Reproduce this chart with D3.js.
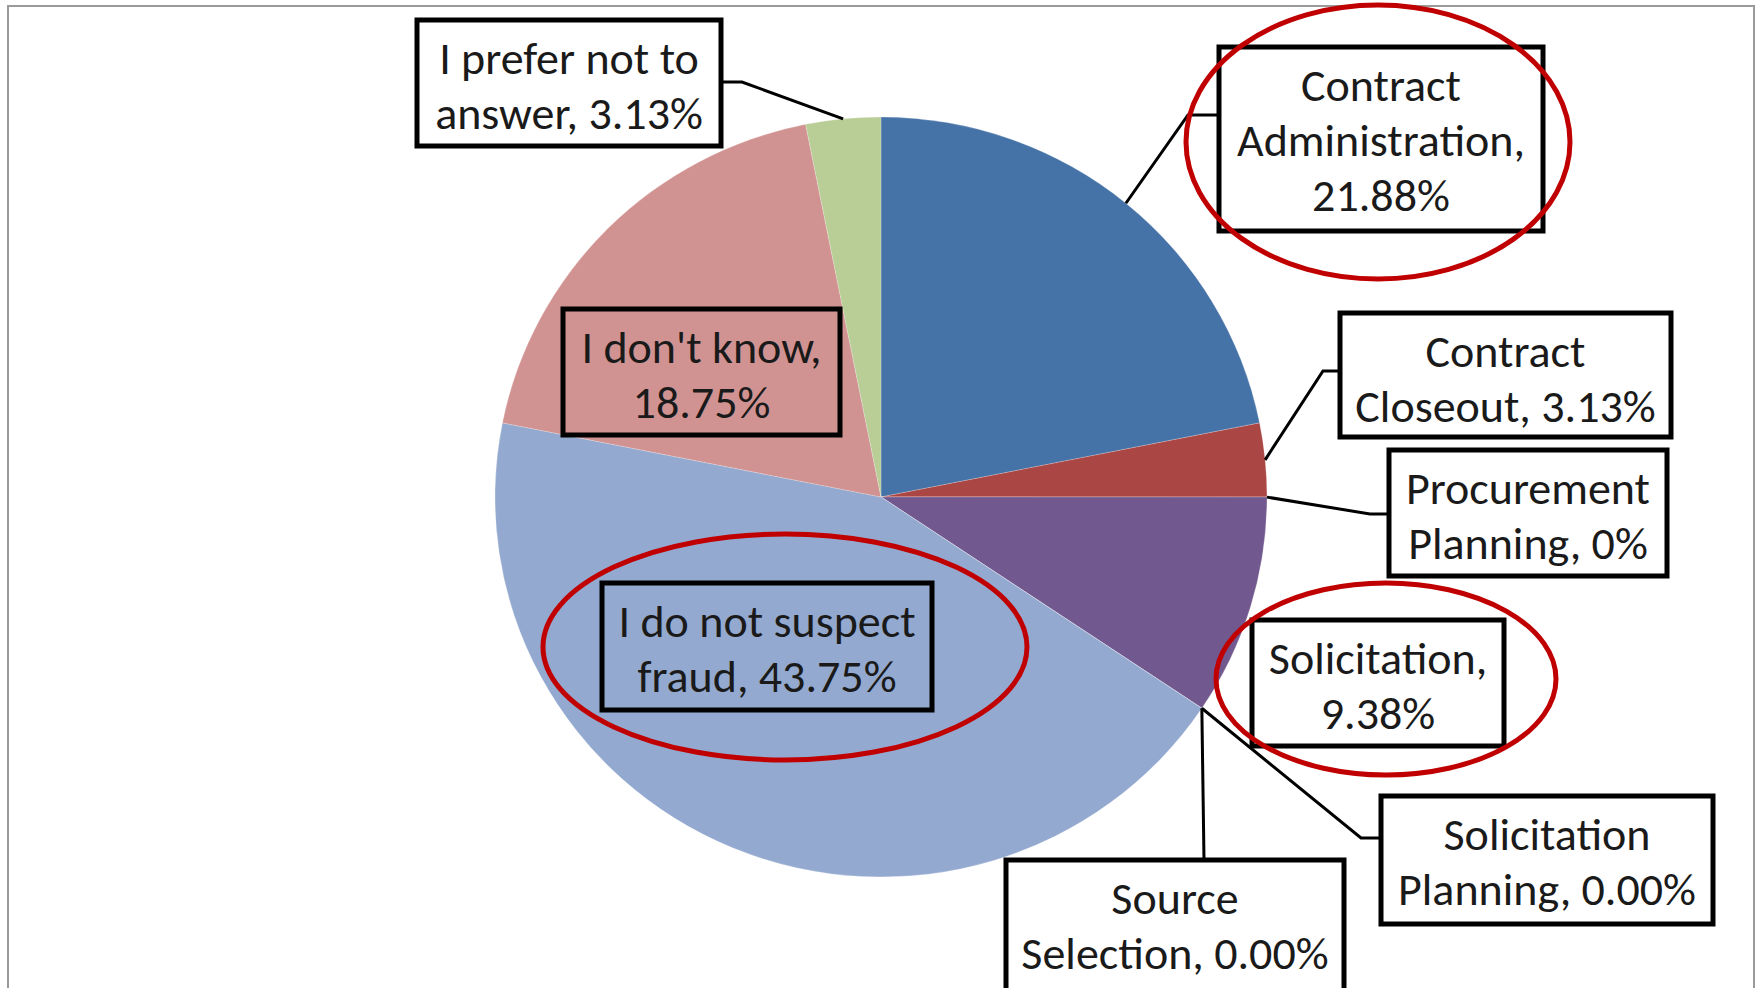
<!DOCTYPE html>
<html>
<head>
<meta charset="utf-8">
<script src="https://cdn.jsdelivr.net/npm/d3@7"></script>
<style>
  html, body { margin: 0; padding: 0; background: #fff; overflow: hidden; }
  text { font-family: Carlito, Calibri, Lato, sans-serif; }
</style>
</head>
<body>
<div class="chart"></div>
<script>
const width = 1758
const height = 988

// data (clockwise from 12 o'clock)
const categories = ['Contract Administration', 'Contract Closeout', 'Procurement Planning', 'Solicitation',
                    'Solicitation Planning', 'Source Selection', 'I do not suspect fraud', "I don't know", 'I prefer not to answer']
const values = [21.88, 3.13, 0, 9.38, 0, 0, 43.75, 18.75, 3.13]
const valueLabels = ['21.88%', '3.13%', '0%', '9.38%', '0.00%', '0.00%', '43.75%', '18.75%', '3.13%']
const labelLines = [
    ['Contract', 'Administration,', '21.88%'],
    ['Contract', 'Closeout, 3.13%'],
    ['Procurement', 'Planning, 0%'],
    ['Solicitation,', '9.38%'],
    ['Solicitation', 'Planning, 0.00%'],
    ['Source', 'Selection, 0.00%'],
    ['I do not suspect', 'fraud, 43.75%'],
    ["I don't know,", '18.75%'],
    ['I prefer not to', 'answer, 3.13%']
]
const colors = ['#4572a7', '#aa4643', '#89a54e', '#71588f', '#4198af', '#db843d', '#93a9cf', '#d19392', '#b9cd96']

// layout of the label boxes: x, y, w, h, fill, leader elbow (null = no leader)
const boxes = [
    {x: 1219, y: 47,  w: 324, h: 184, fill: '#fff', elbow: [1188, 115], end: [1219, 115]},
    {x: 1340, y: 313, w: 331, h: 124, fill: '#fff', elbow: [1323, 371], end: [1340, 371]},
    {x: 1389, y: 450, w: 278, h: 126, fill: '#fff', elbow: [1370, 514], end: [1389, 514]},
    {x: 1252, y: 620, w: 252, h: 126, fill: '#fff', elbow: null},
    {x: 1381, y: 796, w: 332, h: 128, fill: '#fff', elbow: [1361, 838], end: [1381, 838]},
    {x: 1006, y: 860, w: 338, h: 140, fill: '#fff', elbow: [1204, 860], end: [1204, 860]},
    {x: 602,  y: 583, w: 330, h: 127, fill: 'none', elbow: null},
    {x: 563,  y: 309, w: 277, h: 126, fill: 'none', elbow: null},
    {x: 417,  y: 20,  w: 304, h: 126, fill: '#fff', elbow: [742, 82], end: [721, 82]}
]

// red highlight rings
const rings = [
    {cx: 1378, cy: 142, rx: 192, ry: 137},
    {cx: 1386, cy: 679, rx: 170, ry: 96},
    {cx: 785,  cy: 647, rx: 242, ry: 113}
]

const cx = 881, cy = 497, rx = 386, ry = 380

const svg = d3.select('.chart')
    .append('svg')
        .attr('width', width)
        .attr('height', height)

// chart frame
svg.append('rect')
    .attr('x', 8).attr('y', 6)
    .attr('width', 1746).attr('height', 1000)
    .attr('fill', 'none')
    .attr('stroke', '#9a9a9a')
    .attr('stroke-width', 2)

const pie = d3.pie().sort(null).value(d => d)
const arcs = pie(values)
const arc = d3.arc().innerRadius(0).outerRadius(rx)
const edge = d3.arc().innerRadius(rx).outerRadius(rx)

const g = svg.append('g')
    .attr('transform', `translate(${cx},${cy}) scale(1,${ry / rx})`)

g.selectAll('path')
    .data(arcs)
    .join('path')
        .attr('d', arc)
        .attr('fill', (d, i) => colors[i])
        .attr('stroke', 'rgba(255,255,255,0.35)')
        .attr('stroke-width', 0.6)

// leader lines from slice edge midpoints
const edgePoint = d => {
    const p = edge.centroid(d)
    return [cx + p[0], cy + p[1] * ry / rx]
}

svg.append('g')
    .selectAll('path')
    .data(arcs.map((d, i) => ({d, b: boxes[i]})).filter(o => o.b.elbow))
    .join('path')
        .attr('d', o => d3.line()([edgePoint(o.d), o.b.elbow, o.b.end]))
        .attr('fill', 'none')
        .attr('stroke', '#000')
        .attr('stroke-width', 3)

// label boxes
const lab = svg.append('g')
    .selectAll('g')
    .data(boxes.map((b, i) => ({b, lines: labelLines[i]})))
    .join('g')

lab.append('rect')
    .attr('x', o => o.b.x).attr('y', o => o.b.y)
    .attr('width', o => o.b.w).attr('height', o => o.b.h)
    .attr('fill', o => o.b.fill)
    .attr('stroke', '#000')
    .attr('stroke-width', 5)

lab.each(function(o) {
    const t = d3.select(this).append('text')
        .attr('text-anchor', 'middle')
        .attr('font-size', 46)
        .attr('fill', '#1a1a1a')
    o.lines.forEach((s, k) => {
        t.append('tspan')
            .attr('x', o.b.x + o.b.w / 2)
            .attr('y', o.b.y + 54 + 55 * k)
            .text(s)
    })
})

svg.append('g')
    .selectAll('ellipse')
    .data(rings)
    .join('ellipse')
        .attr('cx', d => d.cx).attr('cy', d => d.cy)
        .attr('rx', d => d.rx).attr('ry', d => d.ry)
        .attr('fill', 'none')
        .attr('stroke', '#c00000')
        .attr('stroke-width', 5)
</script>
</body>
</html>
